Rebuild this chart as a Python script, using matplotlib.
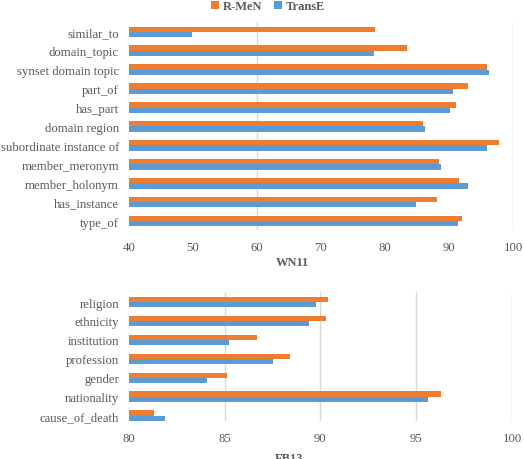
import matplotlib
matplotlib.use("Agg")
import matplotlib.pyplot as plt
import numpy as np

plt.rcParams['font.family'] = ['Liberation Serif', 'DejaVu Serif']

wn_labels = ["similar_to", "domain_topic", "synset domain topic", "part_of", "has_part",
             "domain region", "subordinate instance of", "member_meronym",
             "member_holonym", "has_instance", "type_of"]
wn_rmen = [78.5, 83.5, 95.9, 92.9, 91.1, 86.0, 97.8, 88.5, 91.5, 88.2, 92.1]
wn_transe = [49.9, 78.3, 96.2, 90.6, 90.2, 86.3, 95.9, 88.8, 92.9, 84.9, 91.4]

fb_labels = ["religion", "ethnicity", "institution", "profession", "gender",
             "nationality", "cause_of_death"]
fb_rmen = [90.4, 90.3, 86.7, 88.4, 85.15, 96.3, 81.3]
fb_transe = [89.75, 89.4, 85.25, 87.55, 84.1, 95.6, 81.9]

ORANGE = "#ED7D31"
BLUE = "#5B9BD5"
GRID = "#D9D9D9"
TXT = "#595959"

fig = plt.figure(figsize=(5.24, 4.6), dpi=100)

def draw(ax, labels, rmen, transe, xmin, xmax, ticks, grids, ylim):
    y = np.arange(len(labels))
    h = 0.28
    for g in grids:
        ax.axvline(g, color=GRID, lw=1, zorder=0)
    ax.barh(y - h / 2, rmen, height=h, left=0, color=ORANGE, zorder=2, label="R-MeN")
    ax.barh(y + h / 2, transe, height=h, left=0, color=BLUE, zorder=2, label="TransE")
    ax.set_xlim(xmin, xmax)
    ax.set_ylim(*ylim)
    ax.set_yticks(y)
    ax.set_yticklabels(labels)
    ax.set_xticks(ticks)
    ax.tick_params(axis='both', length=0, colors=TXT, labelsize=9.2)
    ax.tick_params(axis='y', pad=7)
    ax.tick_params(axis='x', pad=8)
    for s in ax.spines.values():
        s.set_visible(False)

ax1 = fig.add_axes([0.2456, 0.4987, 0.7334, 0.4513])
draw(ax1, wn_labels, wn_rmen, wn_transe, 40, 100, [40, 50, 60, 70, 80, 90, 100],
     [60, 100], (10.45, -0.52))

ax2 = fig.add_axes([0.2456, 0.0826, 0.7315, 0.2804])
draw(ax2, fb_labels, fb_rmen, fb_transe, 80, 100, [80, 85, 90, 95, 100],
     [85, 90, 95, 100], (6.28, -0.53))

fig.text(292 / 524, 1 - 263 / 460, "WN11", ha="center", va="center",
         fontsize=9, fontweight="bold", color=TXT)
fig.text(289 / 524, 1 - 459 / 460, "FB13", ha="center", va="center",
         fontsize=9, fontweight="bold", color=TXT)

handles, lbls = ax1.get_legend_handles_labels()
leg = fig.legend(handles, lbls, loc="center", bbox_to_anchor=(268 / 524, 1 - 7 / 460),
                 ncol=2, frameon=False, handlelength=0.6, handleheight=0.6,
                 handletextpad=0.3, columnspacing=1.0,
                 prop={"weight": "bold", "size": 9})
for t in leg.get_texts():
    t.set_color(TXT)

fig.savefig("out.png", dpi=100)
